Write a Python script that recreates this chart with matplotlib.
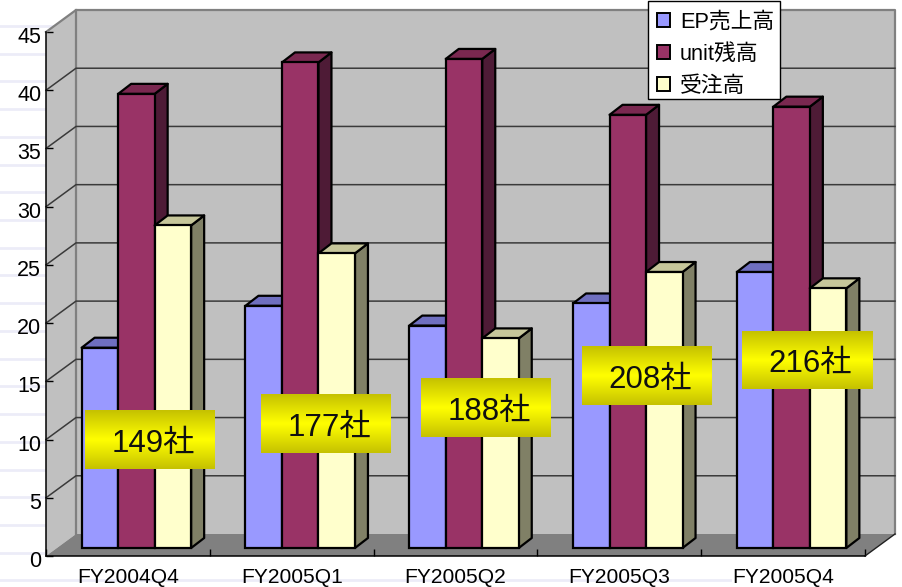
import numpy as np
import matplotlib
matplotlib.use("Agg")
import matplotlib.pyplot as plt
from matplotlib.colors import LinearSegmentedColormap
from matplotlib.lines import Line2D
from matplotlib.patches import Patch, Polygon, Rectangle
from matplotlib.transforms import ScaledTranslation

plt.rcParams['font.family'] = ['Liberation Sans', 'Noto Sans CJK JP']

W, H = 902, 587
X0, X1, Y0, Y1 = 46, 865, 556, 32  # front plane of the axes, in pixels

quarters = ["FY2004Q4", "FY2005Q1", "FY2005Q2", "FY2005Q3", "FY2005Q4"]
ep_sales = [17.2, 20.8, 19.1, 21.0, 23.7]
unit_backlog = [39.0, 41.7, 42.0, 37.2, 37.9]
orders = [27.7, 25.3, 18.0, 23.7, 22.3]
companies = ["149社", "177社", "188社", "208社", "216社"]

series_names = ["EP売上高", "unit残高", "受注高"]
face_colors = ["#9999FF", "#993366", "#FFFFCC"]
top_colors = ["#6F6FC0", "#7A2850", "#C6C69A"]
side_colors = ["#50508A", "#4E1B36", "#808066"]

# where the yellow boxes sit, centre in data units
box_x = [0.635, 1.712, 2.686, 3.669, 4.646]
box_y = [9.96, 11.34, 12.71, 15.46, 16.83]

fig = plt.figure(figsize=(W / 100, H / 100), dpi=100, facecolor="white")
ax = fig.add_axes([X0 / W, 1 - Y0 / H, (X1 - X0) / W, (Y0 - Y1) / H])
ax.set_facecolor("none")

px = 5 / (X1 - X0)   # data units of one pixel, x
py = 45 / (Y0 - Y1)  # same for y
depth_x, depth_y = 30 * px, 22 * py

# faint ruled paper behind the chart, it stops before the right edge
for yp in np.arange(26, H, 27.72):
    fig.add_artist(Line2D([0, 730 / W], [1 - yp / H] * 2, color="#ECECF8", lw=2, zorder=-5))

# walls and floor
wall = dict(clip_on=False, zorder=1, lw=0)
ax.add_patch(Polygon([(0, 0), (depth_x, depth_y), (depth_x, 45 + depth_y), (0, 45)], fc="#C0C0C0", **wall))
ax.add_patch(Polygon([(depth_x, depth_y), (5 + depth_x, depth_y), (5 + depth_x, 45 + depth_y), (depth_x, 45 + depth_y)],
                     fc="#C0C0C0", **wall))
ax.add_patch(Polygon([(0, 0), (5, 0), (5 + depth_x, depth_y), (depth_x, depth_y)], fc="#808080", **wall))
ax.plot([0, depth_x, 5 + depth_x, 5 + depth_x], [45, 45 + depth_y, 45 + depth_y, depth_y],
        color="#808080", lw=1.6, clip_on=False, zorder=2)
ax.plot([depth_x, depth_x], [depth_y, 45 + depth_y], color="#808080", lw=1.6, zorder=2, clip_on=False)
ax.plot([5, 5 + depth_x], [0, depth_y], color="#202020", lw=1, clip_on=False, zorder=2)

# gridlines run up the side wall then along the back
for v in range(5, 45, 5):
    ax.plot([0, depth_x, 5 + depth_x], [v, v + depth_y, v + depth_y], color="#3A3A3A", lw=1.1,
            clip_on=False, zorder=2)

# bars, painted left to right so the nearer faces cover the sides
bar_w = 36.5 * px
off_x, off_y = 8.5 * px, 8 * py
bar_dx, bar_dy = 13 * px, 10 * py
z = 3
for i in range(len(quarters)):
    left = i + 0.5 + off_x - 1.5 * bar_w
    for j, vals in enumerate([ep_sales, unit_backlog, orders]):
        xl = left + j * bar_w
        xr = xl + bar_w
        top = vals[i] + off_y
        ax.add_patch(Polygon([(xr, off_y), (xr + bar_dx, off_y + bar_dy), (xr + bar_dx, top + bar_dy), (xr, top)],
                             fc=side_colors[j], ec="black", lw=1.6, joinstyle="round", clip_on=False, zorder=z))
        ax.add_patch(Polygon([(xl, top), (xr, top), (xr + bar_dx, top + bar_dy), (xl + bar_dx, top + bar_dy)],
                             fc=top_colors[j], ec="black", lw=1.6, joinstyle="round", clip_on=False, zorder=z))
        ax.bar(xl, vals[i], width=bar_w, bottom=off_y, align="edge", color=face_colors[j],
               edgecolor="black", linewidth=1.6, zorder=z + 0.5, clip_on=False)
        z += 1

# yellow captions
box_w, box_h = 130 * px, 58 * py
shine = LinearSegmentedColormap.from_list("shine", ["#C6C200", "#FFFF00", "#C6C200"])
ramp = np.linspace(0, 1, 58).reshape(-1, 1)
for bx, by, label in zip(box_x, box_y, companies):
    ax.imshow(ramp, cmap=shine, aspect="auto", zorder=50, clip_on=False,
              extent=[bx - box_w / 2, bx + box_w / 2, by - box_h / 2, by + box_h / 2])
    ax.text(bx + 3.5 * px, by - 4 * py, label, ha="center", va="center", fontsize=22.5, color="#101010", zorder=51)

ax.set_xlim(0, 5)
ax.set_ylim(0, 45)
ax.set_yticks(range(0, 50, 5))
ax.set_xticks(range(6))
ax.set_xticklabels([])
ax.set_xticks(np.arange(5) + 0.5, quarters, minor=True)
ax.tick_params(axis="y", direction="in", length=5, width=1, pad=3.5, labelsize=15.5, color="black")
ax.tick_params(axis="x", which="major", direction="in", length=5, width=1)
ax.tick_params(axis="x", which="minor", length=0, pad=8.5, labelsize=15.1)
ax.spines["top"].set_visible(False)
ax.spines["right"].set_visible(False)
for s in ["left", "bottom"]:
    ax.spines[s].set_linewidth(1.1)
    ax.spines[s].set_zorder(2.5)

# y labels sit a little under their ticks in the original
nudge = ScaledTranslation(0, -3 / 100, fig.dpi_scale_trans)
for lab in ax.get_yticklabels():
    lab.set_transform(lab.get_transform() + nudge)

# legend box drawn apart so the rows can sit lower inside it
fig.add_artist(Rectangle((648 / W, 1 - 99 / H), 132 / W, 98 / H, transform=fig.transFigure, fc="white",
                         ec="black", lw=1.0, zorder=59))
handles = [Patch(facecolor=c, edgecolor="black", linewidth=1.4) for c in face_colors]
leg = fig.legend(handles, series_names, loc="upper left", bbox_to_anchor=(648 / W, 1 - 3 / H),
                 bbox_transform=fig.transFigure, fontsize=15.7, frameon=False,
                 handlelength=0.62, handleheight=0.62, handletextpad=0.45, labelspacing=0.5, borderpad=0.4,
                 borderaxespad=0)
leg.set_zorder(60)

fig.savefig("out.png", dpi=100)
